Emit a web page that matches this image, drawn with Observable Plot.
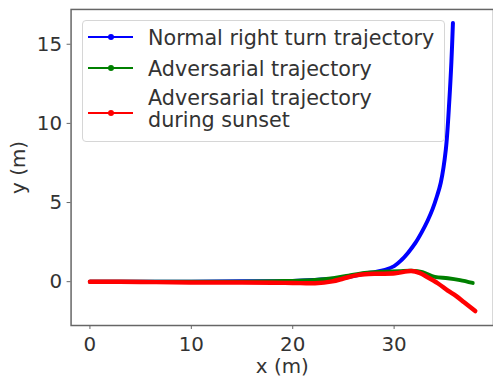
<!DOCTYPE html>
<html>
<head>
<meta charset="utf-8">
<script src="https://cdn.jsdelivr.net/npm/d3@7"></script>
<script src="https://cdn.jsdelivr.net/npm/@observablehq/plot@0.6"></script>
<style>
  html, body { margin: 0; padding: 0; background: #fff; }
  #wrap { position: relative; width: 493px; height: 380px; overflow: hidden; font-family: "DejaVu Sans", sans-serif; }
  #chart svg { display: block; }
  #legend { position: absolute; left: 82px; top: 20px; width: 363px; height: 122px; box-sizing: border-box;
    border: 1px solid #d6d6d6; border-radius: 4px; background: rgba(255,255,255,0.85); color: #333; font-size: 20.7px; }
  .sw { position: absolute; left: 5px; width: 45px; height: 2px; }
  .sw .dot { position: absolute; left: 20px; top: -2px; width: 6px; height: 6px; border-radius: 50%; }
  .lab { position: absolute; left: 65px; line-height: 22px; white-space: pre; }
</style>
</head>
<body>
<div id="wrap"><div id="chart"></div><div id="legend"></div></div>
<script>
// Series names and colours
const seriesNames = ["Normal right turn trajectory", "Adversarial trajectory", "Adversarial trajectory\nduring sunset"];
const seriesColors = ["#0000ff", "#008000", "#ff0000"];

// Normal right turn trajectory
const normalX = [0, 5, 10, 15, 20, 22, 24, 25.5, 27, 28.2, 29.1, 30, 30.7, 31.4, 32.1, 32.7, 33.3, 33.8, 34.2, 34.6, 35.1, 35.45, 35.65, 35.8];
const normalY = [0, 0, 0, 0.02, 0.05, 0.1, 0.18, 0.3, 0.5, 0.62, 0.75, 0.98, 1.35, 1.85, 2.45, 3.1, 3.85, 4.6, 5.35, 6.25, 8.35, 11.5, 13.9, 16.35];

// Adversarial trajectory
const advX = [0, 5, 10, 15, 18, 20, 22.2, 24, 25.5, 27.1, 29, 30.5, 31.7, 32.8, 34, 35.3, 36.5, 37.75];
const advY = [0, 0, 0, 0, 0.02, 0.05, 0.1, 0.22, 0.38, 0.55, 0.62, 0.66, 0.69, 0.6, 0.3, 0.22, 0.1, -0.08];

// Adversarial trajectory during sunset
const sunX = [0, 5, 10, 15, 18, 20, 22.2, 23.9, 25, 26.1, 27.1, 28.5, 30.1, 31.7, 32.5, 33.3, 34.3, 35.3, 36.1, 36.9, 38.0];
const sunY = [0, -0.02, -0.05, -0.05, -0.07, -0.08, -0.1, 0.02, 0.2, 0.38, 0.47, 0.5, 0.53, 0.67, 0.55, 0.28, -0.1, -0.57, -0.9, -1.3, -1.86];

// Tick values
const xTicks = [0, 10, 20, 30];
const yTicks = [0, 5, 10, 15];

const series = [[normalX, normalY], [advX, advY], [sunX, sunY]];
const data = series.flatMap(([xs, ys], i) => xs.map((x, j) => ({x, y: ys[j], s: i})));

const chart = Plot.plot({
  width: 496,
  height: 380,
  marginLeft: 71,
  marginRight: 0,
  marginTop: 9,
  marginBottom: 53,
  style: { fontFamily: "DejaVu Sans, sans-serif", fontSize: "20px", color: "#333", background: "#fff", overflow: "visible" },
  x: { domain: [-1.86, 39.8] },
  y: { domain: [-2.77, 17.2] },
  marks: [
    Plot.frame({ stroke: "#666", strokeWidth: 1.5 }),
    Plot.axisX({ ticks: xTicks, tickSize: 4, tickPadding: 7, fontSize: 20, stroke: "#666", fill: "#333", label: null }),
    Plot.axisY({ ticks: yTicks, tickSize: 4, tickPadding: 5, fontSize: 20, stroke: "#666", fill: "#333", label: null }),
    ...[0, 1, 2].map(i => Plot.line(data.filter(d => d.s === i), {
      x: "x", y: "y", stroke: seriesColors[i], strokeWidth: i === 2 ? 4.5 : 4,
      curve: "catmull-rom", strokeLinecap: "round", strokeLinejoin: "round"
    })),
    Plot.text(["x (m)"], { frameAnchor: "bottom", lineAnchor: "middle", textAnchor: "middle", dy: 41, fontSize: 20, fill: "#333" }),
    Plot.text(["y (m)"], { frameAnchor: "left", lineAnchor: "middle", textAnchor: "middle", dx: -52.5, rotate: -90, fontSize: 20, fill: "#333" })
  ]
});
document.getElementById("chart").appendChild(chart);

// Legend
const legend = document.getElementById("legend");
const swatchTops = [15, 46, 91];
const labelTops = [6, 37, 66];
seriesNames.forEach((name, i) => {
  const sw = document.createElement("div");
  sw.className = "sw";
  sw.style.top = swatchTops[i] + "px";
  sw.style.background = seriesColors[i];
  const dot = document.createElement("div");
  dot.className = "dot";
  dot.style.background = seriesColors[i];
  sw.appendChild(dot);
  legend.appendChild(sw);
  const lab = document.createElement("div");
  lab.className = "lab";
  lab.style.top = labelTops[i] + "px";
  lab.textContent = name;
  legend.appendChild(lab);
});
</script>
</body>
</html>
